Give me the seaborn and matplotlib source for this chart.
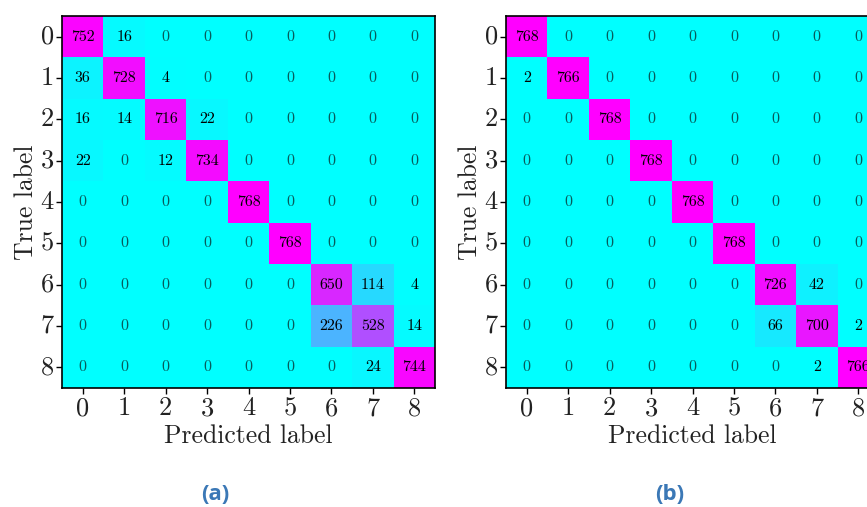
import numpy as np
import pandas as pd
import seaborn as sns
import matplotlib
matplotlib.use("Agg")
import matplotlib.pyplot as plt

sns.set_style("white")
plt.rcParams["font.family"] = ["cmr10", "DejaVu Serif"]
plt.rcParams["axes.formatter.use_mathtext"] = True

classes = ["0", "1", "2", "3", "4", "5", "6", "7", "8"]

cm_a = [
    [752, 16, 0, 0, 0, 0, 0, 0, 0],
    [36, 728, 4, 0, 0, 0, 0, 0, 0],
    [16, 14, 716, 22, 0, 0, 0, 0, 0],
    [22, 0, 12, 734, 0, 0, 0, 0, 0],
    [0, 0, 0, 0, 768, 0, 0, 0, 0],
    [0, 0, 0, 0, 0, 768, 0, 0, 0],
    [0, 0, 0, 0, 0, 0, 650, 114, 4],
    [0, 0, 0, 0, 0, 0, 226, 528, 14],
    [0, 0, 0, 0, 0, 0, 0, 24, 744],
]

cm_b = [
    [768, 0, 0, 0, 0, 0, 0, 0, 0],
    [2, 766, 0, 0, 0, 0, 0, 0, 0],
    [0, 0, 768, 0, 0, 0, 0, 0, 0],
    [0, 0, 0, 768, 0, 0, 0, 0, 0],
    [0, 0, 0, 0, 768, 0, 0, 0, 0],
    [0, 0, 0, 0, 0, 768, 0, 0, 0],
    [0, 0, 0, 0, 0, 0, 726, 42, 0],
    [0, 0, 0, 0, 0, 0, 66, 700, 2],
    [0, 0, 0, 0, 0, 0, 0, 2, 766],
]

panel_tags = ["(a)", "(b)"]

W, H = 867, 507
fig = plt.figure(figsize=(W / 100, H / 100), dpi=100)

# axes boxes in pixels (left, top, width, height) and caption centres
axes_px = [(62, 16, 373, 372), (506, 16, 373, 372)]
tag_x = [215, 670]

for (x0, y0, w, h), cm, tag, tx in zip(axes_px, [cm_a, cm_b], panel_tags, tag_x):
    ax = fig.add_axes([x0 / W, 1 - (y0 + h) / H, w / W, h / H])
    df = pd.DataFrame(np.array(cm), index=classes, columns=classes)
    sns.heatmap(df, ax=ax, cmap="cool", vmin=0, vmax=768, cbar=False,
                annot=True, fmt="d", square=False,
                annot_kws={"fontsize": 11.5, "family": ["cmr10", "DejaVu Serif"]})
    for t in ax.texts:
        if t.get_text() == "0":
            t.set_color("#075c5c")
        else:
            t.set_color("black")
    # faint grid through cell centres
    for k in range(len(classes)):
        ax.axvline(k + 0.5, color="white", lw=0.6, alpha=0.12, zorder=0.5)
        ax.axhline(k + 0.5, color="white", lw=0.6, alpha=0.12, zorder=0.5)
    for s in ax.spines.values():
        s.set_visible(True)
        s.set_color("black")
        s.set_linewidth(1.2)
    ax.tick_params(axis="both", which="major", length=4, width=1, color="black",
                   direction="out", labelsize=19, labelcolor="#222222",
                   left=True, bottom=True, pad=2)
    ax.set_yticklabels(classes, rotation=0)
    ax.set_xticklabels(classes, rotation=0)
    ax.set_xlabel("Predicted label", fontsize=18.5, labelpad=3, color="#222222")
    ax.set_ylabel("True label", fontsize=18.5, labelpad=2, color="#222222")
    fig.text(tx / W, 1 - 494 / H, tag,
             ha="center", va="center", fontsize=16, fontweight="bold",
             color="#3b78b6", family=["Open Sans", "DejaVu Sans"])

fig.savefig("out.png", dpi=100)
